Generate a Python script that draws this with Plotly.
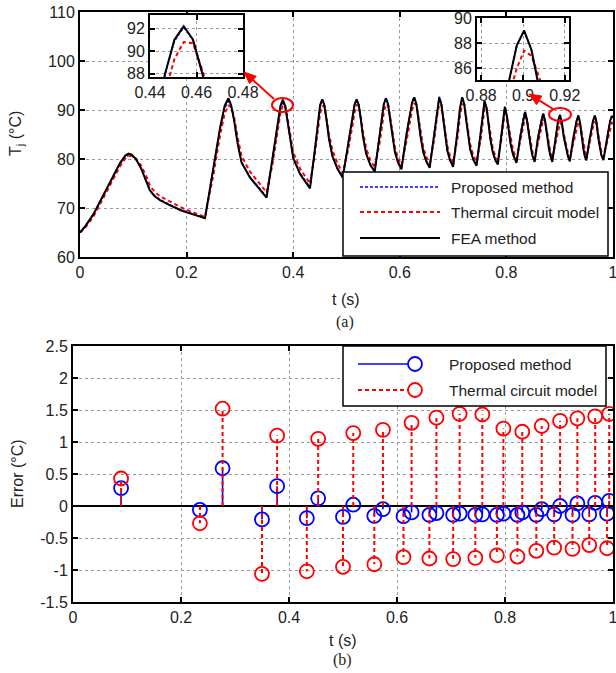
import math
import plotly.graph_objects as go

W, H = 616, 673
def X(p): return p / W
def Y(p): return 1 - p / H

FONT = "Liberation Sans, Arial, sans-serif"
SERIF = "Liberation Serif, Times New Roman, serif"

# ---------------- data ----------------
t_top = [
    0.000, 0.010, 0.025, 0.040, 0.056, 0.075, 0.085, 0.091, 0.097, 0.105, 0.115, 0.124, 0.131, 0.140, 0.150, 0.170, 0.190, 0.212, 0.2345,
    0.250, 0.263, 0.2715, 0.2785, 0.2835, 0.289, 0.296, 0.303, 0.319, 0.335, 0.350,
    0.361, 0.3705, 0.376, 0.3805, 0.385, 0.389, 0.394, 0.400, 0.413, 0.4315,
    0.440, 0.4465, 0.4505, 0.4545, 0.4585, 0.4625, 0.467, 0.4735, 0.483, 0.493,
    0.503, 0.5115, 0.515, 0.519, 0.523, 0.527, 0.531, 0.537, 0.545, 0.553,
    0.562, 0.5675, 0.570, 0.574, 0.578, 0.582, 0.586, 0.591, 0.597, 0.603,
    0.6125, 0.6195, 0.623, 0.627, 0.631, 0.635, 0.639, 0.644, 0.650, 0.656,
    0.665, 0.670, 0.674, 0.678, 0.6815, 0.685, 0.689, 0.694, 0.700,
    0.708, 0.713, 0.717, 0.721, 0.7245, 0.728, 0.732, 0.738, 0.744,
    0.752, 0.7555, 0.759, 0.763, 0.766, 0.770, 0.774, 0.779, 0.784,
    0.790, 0.7935, 0.797, 0.8005, 0.804, 0.808, 0.8125, 0.819,
    0.826, 0.8315, 0.835, 0.8385, 0.842, 0.846, 0.849, 0.853,
    0.859, 0.8655, 0.869, 0.8725, 0.876, 0.880, 0.883, 0.886,
    0.892, 0.897, 0.9005, 0.904, 0.9075, 0.912, 0.9155, 0.919,
    0.925, 0.9315, 0.935, 0.938, 0.941, 0.9445, 0.947, 0.950,
    0.956, 0.9625, 0.966, 0.969, 0.972, 0.9755, 0.978, 0.982,
    0.988, 0.9945, 0.998, 1.000,
]

T_fea = [
    65.0, 66.3, 68.7, 71.9, 75.2, 79.2, 80.7, 81.1, 80.9, 80.0, 78.0, 75.6, 73.6, 72.4, 71.6, 70.5, 69.5, 68.7, 67.9,
    78.0, 86.5, 90.9, 92.4, 91.0, 88.0, 83.0, 79.3, 76.2, 74.2, 72.1,
    80.0, 87.3, 90.8, 92.1, 90.8, 88.0, 84.0, 80.2, 76.9, 74.0,
    81.3, 88.0, 91.0, 92.2, 91.0, 88.0, 84.2, 80.6, 78.0, 76.2,
    83.0, 88.5, 91.0, 92.2, 91.0, 88.0, 84.5, 81.0, 78.7, 77.4,
    84.5, 88.8, 91.2, 92.4, 91.2, 88.0, 84.5, 81.3, 79.2, 77.9,
    85.0, 89.5, 91.5, 92.6, 91.3, 88.0, 84.5, 81.4, 79.4, 78.2,
    85.6, 90.4, 92.6, 91.2, 88.0, 84.8, 81.8, 79.8, 78.4,
    85.4, 90.4, 92.6, 91.2, 88.0, 84.8, 82.0, 79.8, 78.6,
    85.6, 89.4, 91.8, 90.3, 87.5, 84.0, 81.6, 79.8, 78.9,
    84.8, 88.4, 90.6, 89.0, 86.0, 83.0, 80.9, 79.2,
    84.6, 88.2, 89.6, 88.0, 85.0, 82.3, 80.6, 79.4,
    84.2, 88.0, 89.3, 87.8, 84.8, 82.0, 80.5, 79.4,
    84.0, 87.8, 89.0, 87.5, 84.6, 81.9, 80.5, 79.5,
    84.0, 87.7, 88.9, 87.5, 84.6, 82.0, 80.6, 79.7,
    84.0, 87.8, 88.9, 87.5, 84.6, 82.2, 80.8, 79.8,
    84.0, 87.7, 88.8, 88.4,
]

T_proposed = [
    65.0, 66.3, 68.7, 71.9, 75.1, 79.0, 80.4, 80.8, 80.7, 79.9, 78.0, 75.6, 73.7, 72.5, 71.7, 70.6, 69.6, 68.8, 68.0,
    78.0, 86.3, 90.4, 91.8, 90.7, 88.0, 83.1, 79.4, 76.3, 74.3, 72.3,
    80.0, 87.2, 90.6, 91.8, 90.6, 88.0, 84.1, 80.3, 77.0, 74.2,
    81.3, 88.0, 90.9, 92.1, 91.0, 88.1, 84.3, 80.7, 78.1, 76.4,
    83.0, 88.5, 91.0, 92.2, 91.0, 88.1, 84.6, 81.1, 78.8, 77.55,
    84.5, 88.8, 91.2, 92.45, 91.3, 88.1, 84.6, 81.4, 79.3, 78.05,
    85.0, 89.5, 91.6, 92.7, 91.4, 88.1, 84.6, 81.5, 79.5, 78.35,
    85.6, 90.4, 92.7, 91.3, 88.1, 84.9, 81.9, 79.9, 78.55,
    85.4, 90.5, 92.7, 91.3, 88.1, 84.9, 82.1, 79.9, 78.75,
    85.6, 89.5, 91.9, 90.4, 87.6, 84.1, 81.7, 79.9, 79.05,
    84.8, 88.5, 90.7, 89.1, 86.1, 83.1, 81.0, 79.35,
    84.6, 88.3, 89.7, 88.1, 85.1, 82.4, 80.7, 79.55,
    84.2, 88.0, 89.35, 87.9, 84.9, 82.1, 80.6, 79.55,
    84.0, 87.8, 89.0, 87.5, 84.7, 82.0, 80.6, 79.65,
    84.0, 87.7, 88.86, 87.5, 84.7, 82.1, 80.7, 79.83,
    84.0, 87.8, 88.85, 87.5, 84.7, 82.3, 80.9, 79.92,
    84.0, 87.7, 88.72, 88.3,
]

T_thermal = [
    65.0, 66.0, 68.2, 71.3, 74.6, 78.5, 80.1, 80.6, 80.6, 80.1, 78.6, 76.6, 74.6, 73.3, 72.4, 71.2, 70.1, 69.1, 68.2,
    76.6, 85.0, 89.3, 90.9, 90.6, 88.6, 84.3, 80.6, 77.4, 75.3, 73.2,
    78.8, 85.8, 89.3, 91.0, 90.9, 88.6, 85.1, 81.4, 78.0, 75.0,
    80.6, 86.3, 89.3, 90.8, 90.7, 88.3, 85.2, 81.8, 79.1, 77.15,
    81.8, 87.0, 89.5, 91.0, 90.9, 88.5, 85.5, 82.1, 79.7, 78.3,
    83.2, 87.3, 89.6, 91.2, 91.0, 88.5, 85.5, 82.3, 80.1, 78.7,
    83.6, 87.9, 89.9, 91.3, 91.1, 88.6, 85.5, 82.4, 80.3, 79.0,
    84.1, 88.8, 91.2, 91.0, 88.6, 85.8, 82.8, 80.7, 79.2,
    84.0, 88.8, 91.2, 91.0, 88.6, 85.8, 83.0, 80.7, 79.4,
    84.2, 87.9, 90.4, 90.1, 88.0, 85.0, 82.5, 80.6, 79.7,
    83.6, 87.0, 89.4, 88.9, 86.6, 83.9, 81.8, 80.0,
    83.5, 86.9, 88.45, 88.1, 85.8, 83.2, 81.4, 80.1,
    83.2, 86.6, 88.05, 87.8, 85.6, 82.9, 81.2, 80.05,
    83.0, 86.0, 87.4, 87.0, 85.2, 82.8, 81.2, 80.17,
    83.1, 86.4, 87.5, 87.3, 85.4, 82.9, 81.4, 80.3,
    83.2, 86.5, 87.5, 87.3, 85.4, 83.0, 81.6, 80.45,
    83.3, 86.4, 87.4, 87.4,
]

t_err = [0.089, 0.235, 0.277, 0.350, 0.378, 0.433, 0.454, 0.500, 0.519, 0.558, 0.574,
         0.612, 0.627, 0.660, 0.673, 0.704, 0.716, 0.745, 0.758, 0.785, 0.797, 0.823,
         0.832, 0.858, 0.868, 0.891, 0.902, 0.925, 0.934, 0.956, 0.967, 0.989, 0.993]
err_proposed = [0.28, -0.06, 0.59, -0.21, 0.31, -0.19, 0.12, -0.17, 0.02, -0.155, -0.05,
                -0.16, -0.10, -0.14, -0.11, -0.14, -0.12, -0.14, -0.13, -0.14, -0.12, -0.14,
                -0.10, -0.14, -0.05, -0.13, 0.00, -0.14, 0.04, -0.13, 0.05, -0.12, 0.08]
err_thermal = [0.43, -0.27, 1.52, -1.06, 1.10, -1.02, 1.05, -0.95, 1.14, -0.91, 1.19,
               -0.80, 1.30, -0.82, 1.38, -0.83, 1.44, -0.81, 1.43, -0.77, 1.21, -0.79,
               1.16, -0.70, 1.25, -0.65, 1.33, -0.67, 1.37, -0.61, 1.40, -0.66, 1.44]

x_ticks = [0, 0.2, 0.4, 0.6, 0.8, 1]
x_tick_labels = ["0", "0.2", "0.4", "0.6", "0.8", "1"]
y_ticks_top = [60, 70, 80, 90, 100, 110]
y_ticks_err = [-1.5, -1, -0.5, 0, 0.5, 1, 1.5, 2, 2.5]
y_tick_labels_err = ["-1.5", "-1", "-0.5", "0", "0.5", "1", "1.5", "2", "2.5"]
inset1_xticks = [0.44, 0.46, 0.48]
inset1_xlabels = ["0.44", "0.46", "0.48"]
inset1_yticks = [88, 90, 92]
inset2_xticks = [0.88, 0.9, 0.92]
inset2_xlabels = ["0.88", "0.9", "0.92"]
inset2_yticks = [86, 88, 90]

series_names = ["Proposed method", "Thermal circuit model", "FEA method"]

assert len(t_top) == len(T_fea) == len(T_proposed) == len(T_thermal)
assert len(t_err) == len(err_proposed) == len(err_thermal)

BLUE = "#0000ff"
RED = "#ff0000"
BLACK = "#000000"
TXT = "#222222"

fig = go.Figure()

# ---- top plot (insets show the same series, zoomed) ----
for xa, ya in [("x", "y"), ("x3", "y3"), ("x4", "y4")]:
    fig.add_trace(go.Scatter(x=t_top, y=T_proposed, mode="lines", xaxis=xa, yaxis=ya,
                             line=dict(color=BLUE, width=1.6, dash="3px,2px"), name=series_names[0]))
    fig.add_trace(go.Scatter(x=t_top, y=T_thermal, mode="lines", xaxis=xa, yaxis=ya,
                             line=dict(color=RED, width=2, dash="4px,3px"), name=series_names[1]))
    fig.add_trace(go.Scatter(x=t_top, y=T_fea, mode="lines", xaxis=xa, yaxis=ya,
                             line=dict(color=BLACK, width=2), name=series_names[2]))

# ---- bottom stem plot ----
def stems(ts, vs):
    xs, ys = [], []
    for t, v in zip(ts, vs):
        xs += [t, t, None]
        ys += [0, v, None]
    return xs, ys

sx, sy = stems(t_err, err_proposed)
fig.add_trace(go.Scatter(x=sx, y=sy, mode="lines", xaxis="x2", yaxis="y2",
                         line=dict(color=BLUE, width=1.6)))
fig.add_trace(go.Scatter(x=t_err, y=err_proposed, mode="markers", xaxis="x2", yaxis="y2",
                         marker=dict(symbol="circle-open", size=14, color=BLUE, line=dict(width=1.8))))
sx, sy = stems(t_err, err_thermal)
fig.add_trace(go.Scatter(x=sx, y=sy, mode="lines", xaxis="x2", yaxis="y2",
                         line=dict(color=RED, width=2, dash="4px,3px")))
fig.add_trace(go.Scatter(x=t_err, y=err_thermal, mode="markers", xaxis="x2", yaxis="y2",
                         marker=dict(symbol="circle-open", size=14, color=RED, line=dict(width=1.8))))

tickfont = dict(family=FONT, size=16, color=TXT)
common = dict(showline=True, linecolor="black", linewidth=2, mirror="ticks", ticks="inside",
              ticklen=5, tickwidth=1.5, tickcolor="black", showgrid=True, gridcolor="#9a9a9a",
              griddash="dot", gridwidth=1, zeroline=False, tickfont=tickfont, automargin=False,
              ticklabeloverflow="allow")

fig.update_layout(
    width=W, height=H, margin=dict(l=0, r=0, t=0, b=0, autoexpand=False),
    paper_bgcolor="white", plot_bgcolor="white", showlegend=False,
    xaxis=dict(common, domain=[X(80), X(613)], range=[0, 1], anchor="y",
               tickvals=x_ticks, ticktext=x_tick_labels),
    yaxis=dict(common, domain=[Y(257), Y(12)], range=[60, 110], anchor="x",
               tickvals=y_ticks_top),
    xaxis2=dict(common, domain=[X(73), X(613)], range=[0, 1], anchor="y2",
                tickvals=x_ticks, ticktext=x_tick_labels),
    yaxis2=dict(common, domain=[Y(602), Y(346)], range=[-1.5, 2.5], anchor="x2",
                tickvals=y_ticks_err, ticktext=y_tick_labels_err,
                zeroline=True, zerolinecolor="black", zerolinewidth=2),
    xaxis3=dict(common, domain=[X(150), X(243)], range=[0.44, 0.48], anchor="y3",
                tickvals=inset1_xticks, ticktext=inset1_xlabels),
    yaxis3=dict(common, domain=[Y(77), Y(15)], range=[87.7, 93.2], anchor="x3",
                tickvals=inset1_yticks),
    xaxis4=dict(common, domain=[X(477), X(569)], range=[0.878, 0.922], anchor="y4",
                tickvals=inset2_xticks, ticktext=inset2_xlabels),
    yaxis4=dict(common, domain=[Y(80), Y(18)], range=[85.07, 90.0], anchor="x4",
                tickvals=inset2_yticks),
)

shapes = []
annotations = []

def txt(x, y, s, size=16, family=FONT, angle=0, xanchor="center"):
    annotations.append(dict(x=X(x), y=Y(y), xref="paper", yref="paper", text=s, showarrow=False,
                            textangle=angle, xanchor=xanchor, yanchor="middle",
                            font=dict(family=family, size=size, color=TXT)))

# axis titles and captions
txt(17, 134, "T<sub>j</sub> (°C)", angle=-90)
txt(346, 299, "t (s)")
txt(345, 322, "(a)", family=SERIF)
txt(17, 474, "Error (°C)", angle=-90)
txt(343, 640, "t (s)")
txt(343, 660, "(b)", family=SERIF)

# top legend (drawn manually to match the MATLAB layout)
shapes.append(dict(type="rect", xref="paper", yref="paper", x0=X(343), x1=X(608), y0=Y(256), y1=Y(172),
                   fillcolor="white", line=dict(color="black", width=1.5), layer="above"))
leg_rows = [187, 212, 238]
leg_styles = [dict(color=BLUE, width=1.6, dash="3px,2px"), dict(color=RED, width=2, dash="4px,3px"),
              dict(color=BLACK, width=2)]
for yy, st, name in zip(leg_rows, leg_styles, series_names):
    shapes.append(dict(type="line", xref="paper", yref="paper", x0=X(360), x1=X(440), y0=Y(yy), y1=Y(yy),
                       line=st, layer="above"))
    txt(449, yy, name, size=15.5, xanchor="left")

# bottom legend
shapes.append(dict(type="rect", xref="paper", yref="paper", x0=X(343), x1=X(606), y0=Y(406), y1=Y(346),
                   fillcolor="white", line=dict(color="black", width=1.5), layer="above"))
for yy, st, col, name in [(364, dict(color=BLUE, width=1.6), BLUE, series_names[0]),
                          (390, dict(color=RED, width=2, dash="4px,3px"), RED, series_names[1])]:
    shapes.append(dict(type="line", xref="paper", yref="paper", x0=X(358), x1=X(408), y0=Y(yy), y1=Y(yy),
                       line=st, layer="above"))
    shapes.append(dict(type="circle", xref="paper", yref="paper", x0=X(408), x1=X(422), y0=Y(yy + 7),
                       y1=Y(yy - 7), line=dict(color=col, width=1.8), layer="above"))
    txt(447, yy, name, size=15.5, xanchor="left")

# red highlight ellipses and arrows pointing to the insets
shapes.append(dict(type="circle", xref="paper", yref="paper", x0=X(272), x1=X(293), y0=Y(112), y1=Y(98),
                   line=dict(color=RED, width=2), layer="above"))
shapes.append(dict(type="circle", xref="paper", yref="paper", x0=X(549), x1=X(571), y0=Y(121), y1=Y(108),
                   line=dict(color=RED, width=2), layer="above"))

def arrow(hx, hy, tx, ty, head_len=12, head_half=5):
    dx, dy = hx - tx, hy - ty
    n = math.hypot(dx, dy)
    ux, uy = dx / n, dy / n
    bx, by = hx - head_len * ux, hy - head_len * uy
    px_, py_ = -uy, ux
    shapes.append(dict(type="line", xref="paper", yref="paper", x0=X(tx), y0=Y(ty), x1=X(bx), y1=Y(by),
                       line=dict(color=RED, width=2), layer="above"))
    c1 = (bx + head_half * px_, by + head_half * py_)
    c2 = (bx - head_half * px_, by - head_half * py_)
    path = "M {:.4f},{:.4f} L {:.4f},{:.4f} L {:.4f},{:.4f} Z".format(
        X(hx), Y(hy), X(c1[0]), Y(c1[1]), X(c2[0]), Y(c2[1]))
    shapes.append(dict(type="path", xref="paper", yref="paper", path=path, fillcolor=RED,
                       line=dict(color=RED, width=1), layer="above"))

arrow(244, 72, 274, 99)
arrow(529, 94, 553, 109)

fig.update_layout(shapes=shapes, annotations=annotations)
fig.write_html("out.html", config={"displayModeBar": False},
               post_script="document.body.style.margin='0';document.body.style.overflow='hidden';")
